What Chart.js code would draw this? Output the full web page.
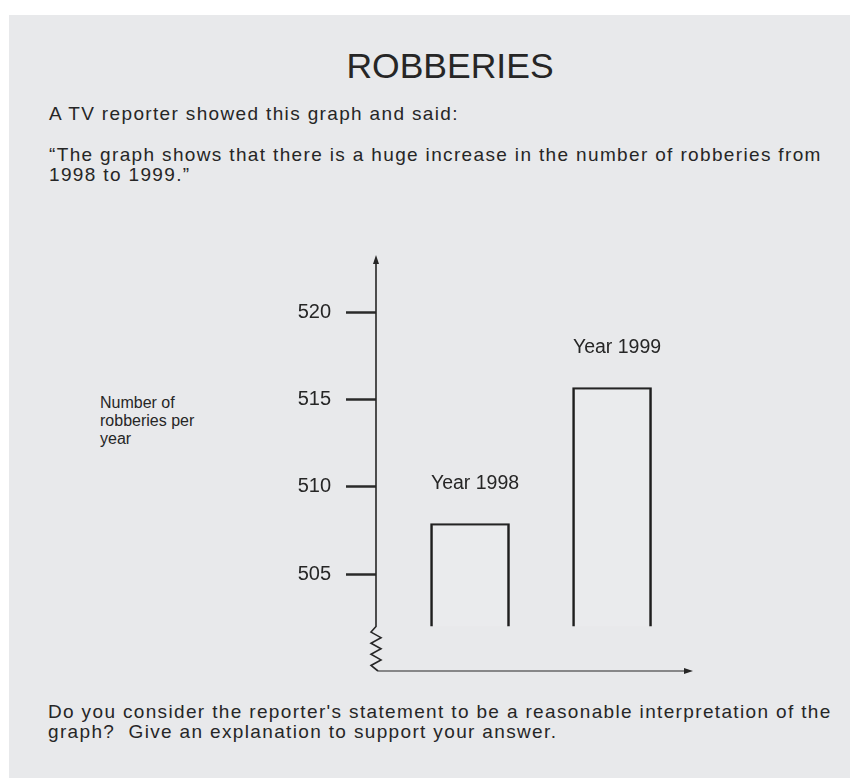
<!DOCTYPE html>
<html>
<head>
<meta charset="utf-8">
<script src="https://cdn.jsdelivr.net/npm/chart.js@4.4.0/dist/chart.umd.min.js"></script>
<style>
  body { margin: 0; background: #fff; }
  #page { position: relative; width: 850px; height: 778px; overflow: hidden; font-family: "Liberation Sans", Arial, sans-serif; color: #262626; }
  #panel { position: absolute; left: 9px; top: 15px; right: 0; bottom: 0; background: #e8e9eb; }
  .txt { position: absolute; white-space: nowrap; }
  .body { font-size: 19px; letter-spacing: 1.35px; }
  #title { left: 0; width: 900px; text-align: center; top: 48px; font-size: 35.5px; line-height: 36px; }
  #intro { left: 49px; top: 104px; line-height: 20px; }
  #quote { left: 49px; top: 145px; line-height: 19.5px; }
  #question { left: 48px; top: 702px; line-height: 20px; }
  #ytitle { left: 100px; top: 394px; font-size: 16px; line-height: 18px; }
  #chartBox { position: absolute; left: 0; top: 0; width: 850px; height: 778px; }
</style>
</head>
<body>
<div id="page">
  <div id="panel"></div>
  <div id="title" class="txt">ROBBERIES</div>
  <div id="intro" class="txt body">A TV reporter showed this graph and said:</div>
  <div id="quote" class="txt body">“The graph shows that there is a huge increase in the number of robberies from<br>1998 to 1999.”</div>
  <div id="ytitle" class="txt">Number of<br>robberies per<br>year</div>
  <div id="question" class="txt body">Do you consider the reporter's statement to be a reasonable interpretation of the<br>graph?&nbsp; Give an explanation to support your answer.</div>
  <div id="chartBox"><canvas id="chart"></canvas></div>
</div>
<script>
const years = [1998, 1999];
const robberies = [507.9, 515.7];
const yTicks = [505, 510, 515, 520];
// bars and the axis are cut off here; the zigzag break sits below it
const barFloor = 502;
const yMin = 499.45;
const yMax = 523.3;
const xMin = 1997.338;
const xMax = 1999.57;

const ink = '#262626';

// axis lines with arrows, the zigzag break, and the year labels over the bars
const brokenAxes = {
  id: 'brokenAxes',
  afterDatasetsDraw(chart) {
    const { ctx, chartArea: a, scales: { y } } = chart;
    const x0 = a.left;
    const yb = y.getPixelForValue(barFloor);
    ctx.save();
    ctx.strokeStyle = ink;
    ctx.fillStyle = ink;
    ctx.lineJoin = 'miter';

    // vertical axis down to the break
    ctx.lineWidth = 1.6;
    ctx.beginPath();
    ctx.moveTo(x0, a.top + 4);
    ctx.lineTo(x0, yb);
    const n = 8, h = (a.bottom - yb) / n;
    for (let i = 1; i < n; i++) {
      ctx.lineTo(x0 + (i % 2 ? -5 : 5), yb + i * h);
    }
    ctx.lineTo(x0 + 2, a.bottom);
    ctx.stroke();

    // arrow at the top
    ctx.beginPath();
    ctx.moveTo(x0, a.top);
    ctx.lineTo(x0 - 3, a.top + 9);
    ctx.lineTo(x0 + 3, a.top + 9);
    ctx.closePath();
    ctx.fill();

    // horizontal axis
    ctx.lineWidth = 1.2;
    ctx.beginPath();
    ctx.moveTo(x0 + 2, a.bottom);
    ctx.lineTo(a.right - 6, a.bottom);
    ctx.stroke();
    ctx.beginPath();
    ctx.moveTo(a.right, a.bottom);
    ctx.lineTo(a.right - 9, a.bottom - 3);
    ctx.lineTo(a.right - 9, a.bottom + 3);
    ctx.closePath();
    ctx.fill();

    // labels above the bars
    ctx.font = '19.5px "Liberation Sans", Arial, sans-serif';
    ctx.textAlign = 'center';
    ctx.textBaseline = 'alphabetic';
    chart.getDatasetMeta(0).data.forEach((bar, i) => {
      ctx.fillText('Year ' + years[i], bar.x + 5, bar.y - 35);
    });
    ctx.restore();
  }
};

new Chart(document.getElementById('chart'), {
  type: 'bar',
  data: {
    datasets: [{
      data: years.map((yr, i) => ({ x: yr, y: [barFloor, robberies[i]] })),
      backgroundColor: 'rgba(255,255,255,0.12)',
      borderColor: '#1e1e1e',
      borderWidth: { top: 1.5, left: 2, right: 2, bottom: 0 },
      borderSkipped: 'start',
      barThickness: 79
    }]
  },
  options: {
    responsive: true,
    maintainAspectRatio: false,
    animation: false,
    layout: { padding: { left: 276, top: 255, right: 157, bottom: 107 } },
    plugins: { legend: { display: false }, tooltip: { enabled: false } },
    scales: {
      x: { type: 'linear', min: xMin, max: xMax, offset: false, display: false },
      y: {
        min: yMin,
        max: yMax,
        border: { display: false },
        grid: {
          drawOnChartArea: false,
          drawTicks: true,
          tickLength: 30,
          tickWidth: 2.5,
          tickColor: '#2a2a2a'
        },
        ticks: {
          padding: 15,
          color: ink,
          font: { family: '"Liberation Sans", Arial, sans-serif', size: 20 }
        },
        afterBuildTicks: (scale) => {
          scale.ticks = yTicks.map(v => ({ value: v }));
        },
        afterFit: (scale) => {
          scale.width = 100;
        }
      }
    }
  },
  plugins: [brokenAxes]
});
</script>
</body>
</html>
